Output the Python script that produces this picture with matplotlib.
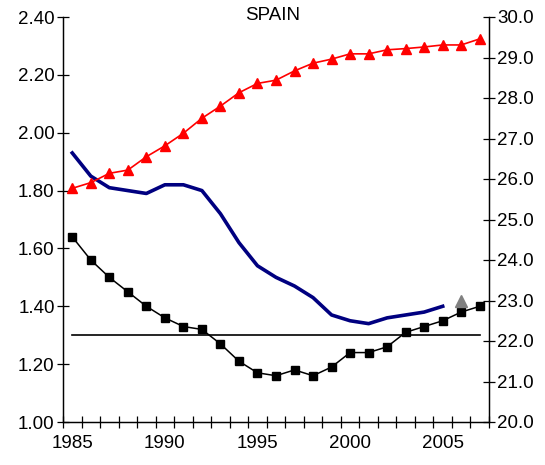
import numpy as np
import matplotlib.pyplot as plt
from matplotlib.ticker import FormatStrFormatter

plt.rcParams['font.family'] = ['Liberation Sans', 'DejaVu Sans']

years = list(range(1985, 2008))
# periodo TFR (eje izquierdo)
tfr = [1.64, 1.56, 1.50, 1.45, 1.40, 1.36, 1.33, 1.32, 1.27, 1.21, 1.17, 1.16,
       1.18, 1.16, 1.19, 1.24, 1.24, 1.26, 1.31, 1.33, 1.35, 1.38, 1.40]
# TFR ajustada por tempo (eje izquierdo)
adj_years = list(range(1985, 2006))
adj_tfr = [1.93, 1.85, 1.81, 1.80, 1.79, 1.82, 1.82, 1.80, 1.72, 1.62, 1.54, 1.50,
           1.47, 1.43, 1.37, 1.35, 1.34, 1.36, 1.37, 1.38, 1.40]
# edad media al primer hijo (eje derecho)
mean_age = [25.77, 25.91, 26.14, 26.22, 26.55, 26.82, 27.13, 27.50, 27.80, 28.13,
            28.36, 28.44, 28.67, 28.86, 28.96, 29.09, 29.09, 29.19, 29.22, 29.26,
            29.31, 29.31, 29.46]
threshold = 1.30
extra_year = [2006]
extra_val = [1.42]

fig = plt.figure(figsize=(5.45, 4.65), dpi=100)
ax = fig.add_axes([63 / 545, 43 / 465, 426 / 545, 405 / 465])
ax2 = ax.twinx()

ax.plot([years[0], years[-1]], [threshold, threshold], color='black', lw=1.2, zorder=2)
ax.plot(adj_years, adj_tfr, color='#000080', lw=2.6, zorder=3)
ax.plot(years, tfr, color='black', lw=1.1, marker='s', ms=5.2, zorder=4)
ax.plot(extra_year, extra_val, ls='none', marker='^', ms=8.5, color='#808080', zorder=4)
ax2.plot(years, mean_age, color='red', lw=1.2, marker='^', ms=6.5)

ax.set_xlim(1984.5, 2007.5)
ax.set_ylim(1.0, 2.4)
ax2.set_ylim(20, 30)
ax.set_yticks(np.arange(1.0, 2.41, 0.2))
ax2.set_yticks(np.arange(20, 30.1, 1))
ax.yaxis.set_major_formatter(FormatStrFormatter('%.2f'))
ax2.yaxis.set_major_formatter(FormatStrFormatter('%.1f'))

ax.set_xticks([1985, 1990, 1995, 2000, 2005])
ax.set_xticks(np.arange(1984.5, 2008, 1), minor=True)
ax.tick_params(axis='x', which='major', length=0, labelsize=13.5, pad=9)
ax.tick_params(axis='x', which='minor', length=8, direction='inout', width=0.9)
ax.tick_params(axis='y', length=8, direction='inout', width=0.9, labelsize=13.5, pad=2)
ax2.tick_params(axis='y', length=8, direction='inout', width=0.9, labelsize=13.5, pad=2)

for a in (ax, ax2):
    a.spines['top'].set_visible(False)
    for s in ('left', 'right', 'bottom'):
        a.spines[s].set_linewidth(0.9)

fig.text(273 / 545, 1 - 15 / 465, 'SPAIN', ha='center', va='center', fontsize=13.5)

fig.savefig('out.png', dpi=100)
